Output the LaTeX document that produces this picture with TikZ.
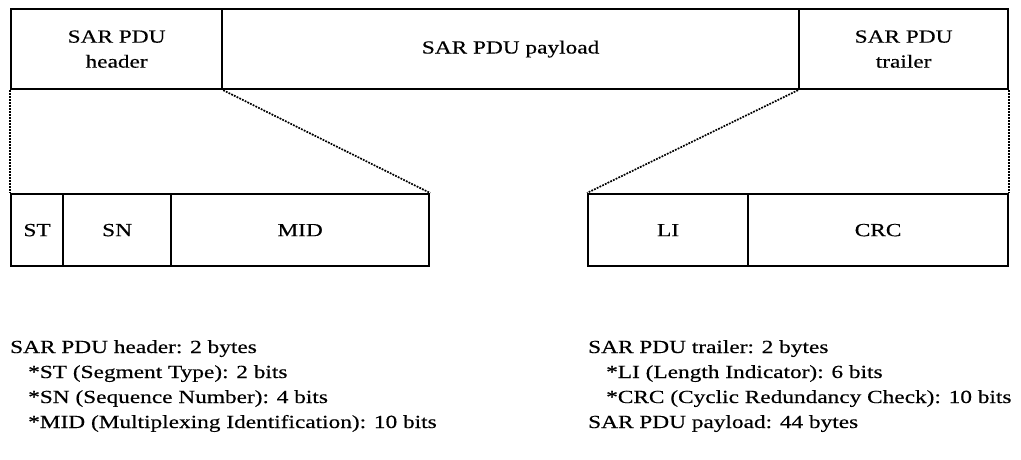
\documentclass[tikz,border=0pt]{standalone}
\usepackage{fontspec}
\setmainfont[FakeStretch=1.26,FakeBold=0.4]{Liberation Serif}
\begin{document}
\begin{tikzpicture}[x=1pt,y=-1pt,
  box/.style={draw=black, line width=2.2pt, anchor=north west, inner sep=0pt, align=center,
    font=\fontsize{18.5}{25}\selectfont},
  zoomline/.style={line width=1.7pt, dash pattern=on 1.8pt off 1.2pt},
  info/.style={anchor=base west, inner sep=0pt, font=\fontsize{18.5}{25}\selectfont}]
\useasboundingbox (0,0) rectangle (1021,459);
% top row
\node[box, minimum width=211pt, minimum height=80pt] (hdr) at (10,8) {SAR PDU\\header};
\node[box, minimum width=577pt, minimum height=80pt] (pay) at (221,8) {SAR PDU payload};
\node[box, minimum width=209pt, minimum height=80pt] (trl) at (798,8) {SAR PDU\\trailer};
% bottom left
\node[box, minimum width=52pt, minimum height=72pt] (st) at (10,193) {ST};
\node[box, minimum width=108pt, minimum height=72pt] (sn) at (62,193) {SN};
\node[box, minimum width=258pt, minimum height=72pt] (mid) at (170,193) {MID};
% bottom right
\node[box, minimum width=160pt, minimum height=72pt] (li) at (587,193) {LI};
\node[box, minimum width=260pt, minimum height=72pt] (crc) at (747,193) {CRC};
% zoom lines
\draw[zoomline] (hdr.south west) -- (st.north west);
\draw[zoomline] (hdr.south east) -- (mid.north east);
\draw[zoomline] (trl.south west) -- (li.north west);
\draw[zoomline] (trl.south east) -- (crc.north east);
% descriptions
\node[info] (l1) at (10,353) {SAR PDU header: 2 bytes};
\node[info] (l2) at (28,378) {*ST (Segment Type): 2 bits};
\node[info] (l3) at (28,403) {*SN (Sequence Number): 4 bits};
\node[info] (l4) at (28,428) {*MID (Multiplexing Identification): 10 bits};
\node[info] (r1) at (588,353) {SAR PDU trailer: 2 bytes};
\node[info] (r2) at (606,378) {*LI (Length Indicator): 6 bits};
\node[info] (r3) at (606,403) {*CRC (Cyclic Redundancy Check): 10 bits};
\node[info] (r4) at (588,428) {SAR PDU payload: 44 bytes};
\end{tikzpicture}
\end{document}
